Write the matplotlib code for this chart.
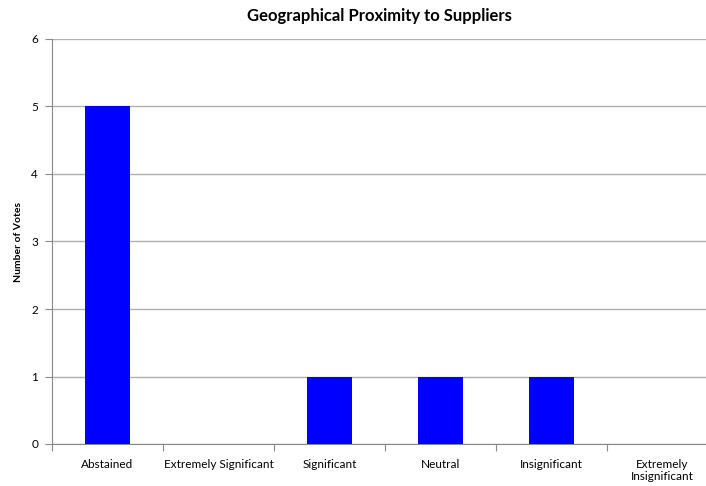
import matplotlib.pyplot as plt
import numpy as np

categories = ["Abstained", "Extremely Significant", "Significant", "Neutral",
              "Insignificant", "Extremely\nInsignificant"]
votes = [5, 0, 1, 1, 1, 0]

plt.rcParams['font.family'] = ['Lato', 'DejaVu Sans']

W, H = 706, 486
fig = plt.figure(figsize=(W / 100, H / 100), dpi=100)
# plot area runs slightly past the right edge of the image, like the original
ax = fig.add_axes([52 / W, 1 - 444 / H, 666 / W, 405 / H])

x = np.arange(len(categories))
ax.bar(x, votes, width=0.4, color='#0000FF', zorder=3)

ax.set_xlim(-0.5, len(categories) - 0.5)
ax.set_ylim(0, 6)
ax.set_yticks(range(0, 7))
ax.yaxis.grid(True, color='#B0B0B0', linewidth=1, zorder=0)

# category labels sit between boundary ticks
ax.set_xticks(np.arange(len(categories) + 1) - 0.5)
ax.set_xticklabels([])
ax.set_xticks(x, minor=True)
ax.set_xticklabels(categories, minor=True, fontsize=8.5, linespacing=1.15)
ax.tick_params(axis='x', which='minor', length=0, pad=10.5)
ax.tick_params(axis='x', which='major', length=5, color='#888888')
ax.tick_params(axis='y', length=5, color='#888888', labelsize=8.5, pad=5)

for side in ['top', 'right']:
    ax.spines[side].set_visible(False)
for side in ['left', 'bottom']:
    ax.spines[side].set_color('#888888')

ax.set_ylabel("Number of Votes", fontsize=7.5, fontweight='bold', labelpad=6)
fig.text(379 / W, 1 - 16 / H, "Geographical Proximity to Suppliers",
         ha='center', va='center', fontsize=12, fontweight='bold')

fig.savefig("out.png", dpi=100)
